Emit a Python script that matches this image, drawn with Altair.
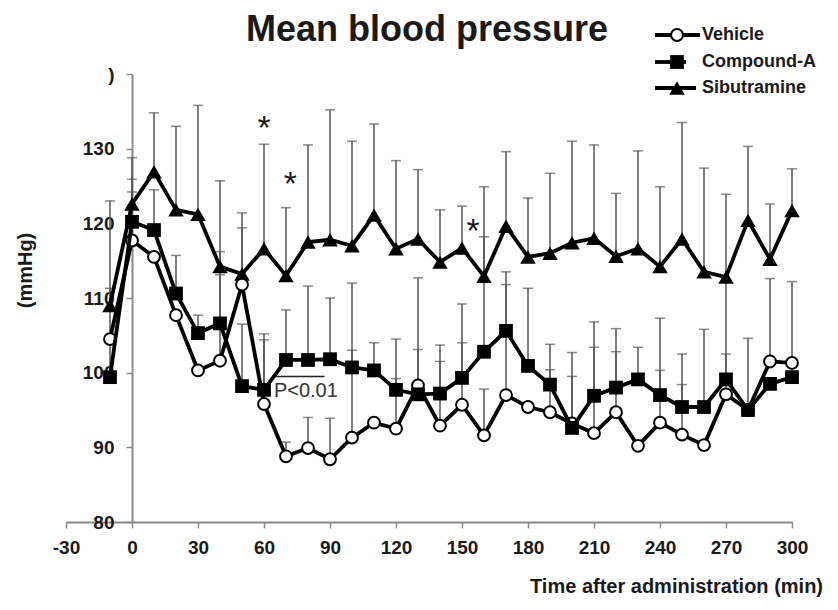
import altair as alt
import pandas as pd

# ---------------- data ----------------
time = [-10, 0, 10, 20, 30, 40, 50, 60, 70, 80, 90, 100, 110, 120, 130, 140,
        150, 160, 170, 180, 190, 200, 210, 220, 230, 240, 250, 260, 270, 280, 290, 300]

vehicle = [104.5, 117.7, 115.5, 107.7, 100.3, 101.6, 111.8, 95.8, 88.8, 89.9, 88.4, 91.3,
           93.3, 92.5, 98.3, 92.9, 95.7, 91.6, 97.0, 95.4, 94.7, 93.2, 91.9, 94.7,
           90.2, 93.3, 91.7, 90.3, 97.1, 95.0, 101.5, 101.3]
vehicle_upper = [None, 124.2, None, None, None, 113.1, 119.4, 104.4, 90.7, 94.0, 93.9, 112.0,
                 None, 99.2, 103.1, 101.5, 104.0, 97.8, 111.8, None, 100.4, 99.5, 103.4, 102.8,
                 None, 100.3, 98.4, None, 102.5, None, 112.6, 112.2]

compound = [99.4, 120.2, 119.1, 110.6, 105.3, 106.6, 98.2, 97.7, 101.7, 101.7, 101.8, 100.7,
            100.3, 97.7, 97.1, 97.2, 99.3, 102.8, 105.6, 100.9, 98.4, 92.6, 96.9, 98.0,
            99.1, 97.0, 95.4, 95.4, 99.1, 95.0, 98.5, 99.4]
compound_upper = [111.3, 125.9, 124.5, 115.7, 107.7, 116.2, 106.5, 105.2, 108.4, 111.6, 110.0, 103.0,
                  104.0, 104.5, 112.7, 103.7, 109.2, 118.2, 113.5, 111.3, 103.8, 102.7, 106.8, 105.9,
                  103.4, 107.3, 102.5, 105.8, 112.5, 104.6, None, None]

sibutramine = [109.0, 122.6, 126.9, 121.8, 121.2, 114.2, 113.2, 116.6, 113.0, 117.5, 117.8, 117.0,
               121.1, 116.6, 117.9, 114.8, 116.7, 112.9, 119.6, 115.5, 116.0, 117.4, 118.0, 115.6,
               116.6, 114.2, 117.9, 113.5, 112.8, 120.4, 115.2, 121.7]
sibutramine_upper = [123.0, 128.8, 134.8, 133.0, 135.8, 125.7, 121.4, 130.6, 122.1, 130.5, 135.2, 131.0,
                     133.3, 128.4, 127.2, 121.8, 122.3, 124.9, 129.6, 123.4, 126.7, 131.0, 130.5, 124.0,
                     129.7, 124.9, 133.5, 127.4, 123.9, 130.3, 122.6, 127.3]

series_names = ["Vehicle", "Compound-A", "Sibutramine"]
x_ticks = list(range(-30, 301, 30))
y_ticks = list(range(80, 141, 10))

# annotations
star_x = [60, 72, 155]
star_y = [132.7, 125.2, 118.8]
p_text_x = [64.5]
p_text_y = [97.6]
p_line_x = [65]
p_line_x2 = [87.5]
p_line_y = [99.5]

# ---------------- tables ----------------
def frame(name, mean, upper):
    return pd.DataFrame({"time": time, "mean": mean, "upper": upper, "series": name})

frames = {
    "Vehicle": frame("Vehicle", vehicle, vehicle_upper),
    "Compound-A": frame("Compound-A", compound, compound_upper),
    "Sibutramine": frame("Sibutramine", sibutramine, sibutramine_upper),
}
df = pd.concat(frames.values(), ignore_index=True)
err = df.dropna(subset=["upper"])

stars = pd.DataFrame({"x": star_x, "y": star_y, "t": ["*"] * len(star_x)})
ptxt = pd.DataFrame({"x": p_text_x, "y": p_text_y, "t": ["P<0.01"]})
pline = pd.DataFrame({"x": p_line_x, "x2": p_line_x2, "y": p_line_y})

# ---------------- styling ----------------
FONT = "Liberation Sans"
AX = "#8a8a8a"
EB = "#555555"
TXT = "#1a1a1a"

x_scale = alt.Scale(domain=[-30, 300], nice=False, zero=False)
y_scale = alt.Scale(domain=[80, 140], nice=False, zero=False)

x_axis = alt.Axis(
    values=x_ticks, grid=False, domainColor=AX, domainWidth=2, tickColor=AX, tickWidth=1.5,
    tickSize=6, labelFont=FONT, labelFontSize=19, labelFontWeight="bold", labelColor=TXT,
    labelPadding=10, labelFlush=False,
    labelExpr="datum.value < 0 ? '-' + abs(datum.value) : datum.label",
    title="Time after administration (min)", titleFont=FONT, titleFontSize=20,
    titleFontWeight="bold", titleColor=TXT, titleX=610, titleY=64, titleAlign="center",
    titleBaseline="middle",
)
y_axis = alt.Axis(
    values=y_ticks, grid=False, offset=-66, domainColor=AX, domainWidth=2, tickColor=AX,
    tickWidth=1.5, tickSize=6, labelFont=FONT, labelFontSize=19, labelFontWeight="bold",
    labelColor=TXT, labelPadding=12, labelFlush=False,
    labelExpr="datum.value == 140 ? ')' : datum.label",
    title="(mmHg)", titleFont=FONT, titleFontSize=20, titleFontWeight="bold", titleColor=TXT,
    titleAngle=270, titleX=-107, titleY=196, titleAlign="center", titleBaseline="middle",
)

X = alt.X("time:Q", scale=x_scale, axis=x_axis)
Y = alt.Y("mean:Q", scale=y_scale, axis=y_axis)

layers = []
layers.append(
    alt.Chart(err).mark_rule(color=EB, strokeWidth=1.5).encode(x=X, y=Y, y2="upper:Q")
)
layers.append(
    alt.Chart(err).mark_tick(orient="horizontal", size=10, thickness=1.5, color=EB).encode(
        x="time:Q", y="upper:Q")
)

marker_kind = {"Vehicle": "circle", "Compound-A": "square", "Sibutramine": "triangle"}


def point_layer(data, kind):
    if kind == "circle":
        return alt.Chart(data).mark_circle(fill="white", stroke="black", strokeWidth=2, size=140, opacity=1)
    if kind == "square":
        return alt.Chart(data).mark_square(color="black", size=190, opacity=1)
    return alt.Chart(data).mark_point(shape="triangle-up", filled=True, color="black", size=240, opacity=1)


for name in ["Sibutramine", "Vehicle", "Compound-A"]:
    d = frames[name]
    layers.append(alt.Chart(d).mark_line(color="black", strokeWidth=3.8).encode(x="time:Q", y="mean:Q"))
    layers.append(point_layer(d, marker_kind[name]).encode(x="time:Q", y="mean:Q"))

# annotations
layers.append(
    alt.Chart(stars).mark_text(font=FONT, fontSize=34, color=TXT, baseline="middle").encode(
        x="x:Q", y="y:Q", text="t:N")
)
layers.append(
    alt.Chart(ptxt).mark_text(font=FONT, fontSize=20, color="#333333", align="left", baseline="middle").encode(
        x="x:Q", y="y:Q", text="t:N")
)
layers.append(
    alt.Chart(pline).mark_rule(color="#222222", strokeWidth=1.5).encode(x="x:Q", x2="x2:Q", y="y:Q")
)

# title
layers.append(
    alt.Chart(pd.DataFrame({"t": ["Mean blood pressure"]})).mark_text(
        font=FONT, fontSize=36, fontWeight="bold", color=TXT, align="center", baseline="alphabetic"
    ).encode(x=alt.value(361), y=alt.value(-33), text="t:N")
)

# legend (manual, drawn in pixel space at the top right)
leg_rows = [-39, -12, 14]
leg_line_x = 589
leg_line_x2 = {"Vehicle": 634, "Compound-A": 620, "Sibutramine": 630}
leg_marker_x = 611
leg_text_x = 636
for i, name in enumerate(series_names):
    yy = leg_rows[i]
    one = pd.DataFrame({"t": [name]})
    layers.append(
        alt.Chart(one).mark_rule(color="black", strokeWidth=3.8).encode(
            x=alt.value(leg_line_x), x2=alt.value(leg_line_x2[name]), y=alt.value(yy))
    )
    layers.append(point_layer(one, marker_kind[name]).encode(x=alt.value(leg_marker_x), y=alt.value(yy)))
    layers.append(
        alt.Chart(one).mark_text(font=FONT, fontSize=18, fontWeight="bold", color=TXT, align="left",
                                 baseline="middle").encode(
            x=alt.value(leg_text_x), y=alt.value(yy), text="t:N")
    )

chart = alt.layer(*layers).properties(
    width=726, height=448,
    autosize=alt.AutoSizeParams(type="none"),
    padding={"left": 58, "top": 66, "right": 38, "bottom": 75},
    background="white",
).configure_view(stroke=None)

chart.save("out.html", embed_options={"renderer": "svg", "actions": False})
